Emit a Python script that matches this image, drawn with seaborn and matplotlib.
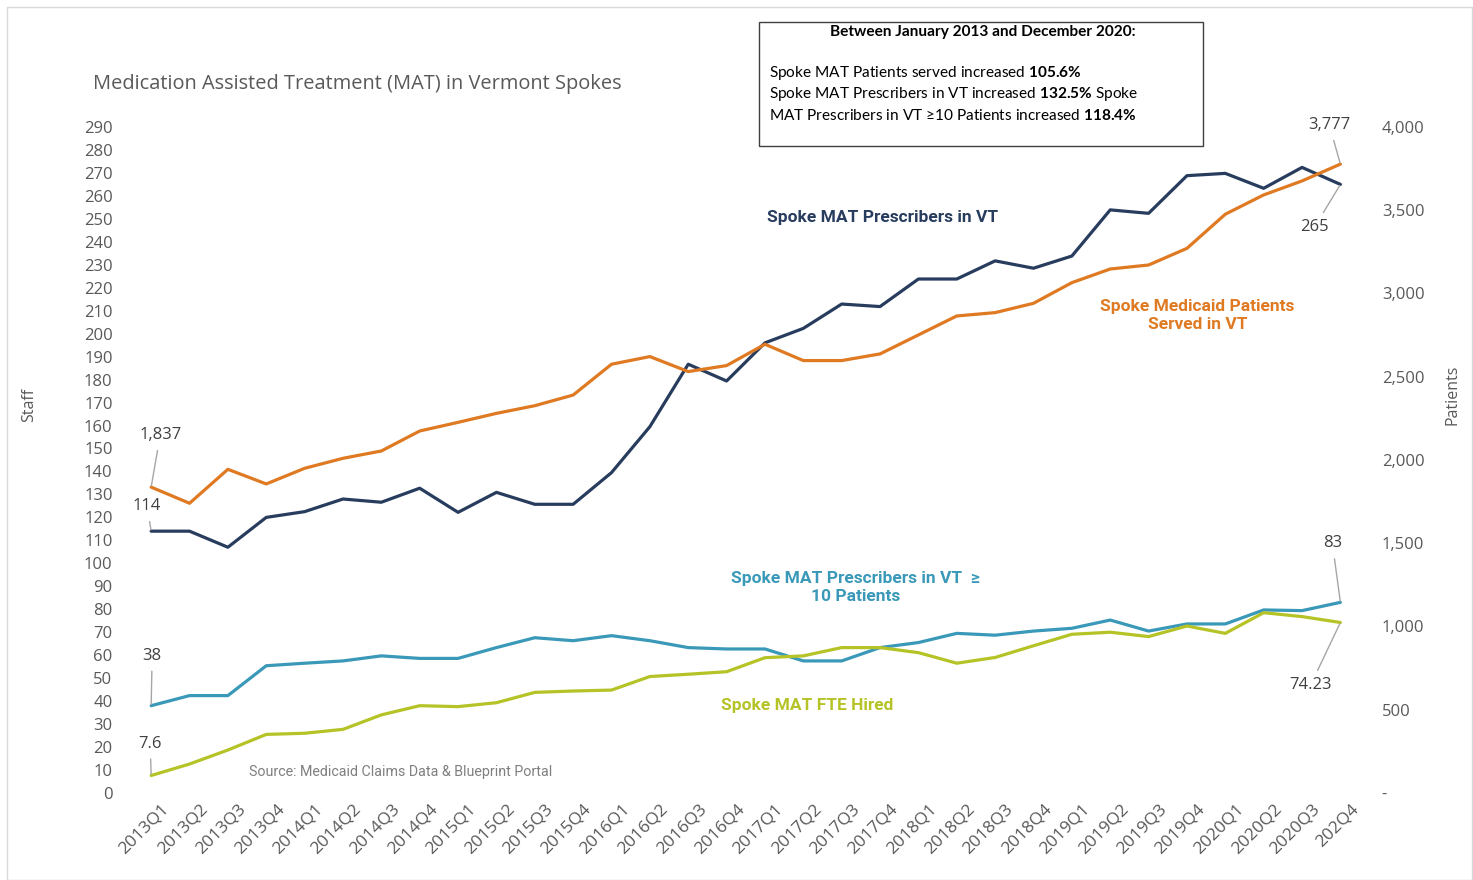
import matplotlib
matplotlib.use("Agg")
import matplotlib.pyplot as plt
import matplotlib.transforms as mtransforms
import seaborn as sns
import pandas as pd
from matplotlib.patches import Rectangle
from matplotlib.ticker import FuncFormatter, MultipleLocator

# quarters (last label keeps the typo of the original chart)
quarters = [f"{y}Q{q}" for y in range(2013, 2021) for q in range(1, 5)]
quarters[-1] = "202Q4"

# Spoke MAT Prescribers in VT (left axis, staff)
prescribers = [114, 114, 107, 120, 122.5, 128, 126.6, 132.7, 122.2, 130.9, 125.7, 125.7,
               139.5, 159.5, 186.7, 179.4, 196, 202.3, 212.9, 211.8, 223.8, 223.8, 231.7, 228.5,
               233.8, 253.9, 252.4, 268.8, 269.8, 263.3, 272.4, 265]

# Spoke Medicaid Patients Served in VT (right axis, patients)
patients = [1837, 1740, 1944, 1856, 1950, 2010, 2054, 2174, 2226, 2280, 2326, 2390,
            2575, 2621, 2531, 2567, 2695, 2597, 2597, 2637, 2751, 2865, 2885, 2941,
            3065, 3147, 3171, 3271, 3476, 3592, 3676, 3777]

# Spoke MAT Prescribers in VT >= 10 Patients (left axis)
prescribers_10 = [38, 42.4, 42.4, 55.4, 56.5, 57.5, 59.7, 58.6, 58.6, 63.3, 67.6, 66.3,
                  68.5, 66.3, 63.3, 62.7, 62.7, 57.5, 57.5, 63.3, 65.5, 69.5, 68.7, 70.5,
                  71.7, 75.3, 70.5, 73.6, 73.6, 79.7, 79.4, 83]

# Spoke MAT FTE Hired (left axis)
fte_hired = [7.6, 12.6, 18.7, 25.5, 26, 27.7, 34, 38, 37.6, 39.3, 43.8, 44.4,
             44.8, 50.7, 51.7, 52.8, 58.9, 59.7, 63.3, 63.3, 61.1, 56.5, 59, 64.1,
             69.1, 70, 68.1, 72.7, 69.5, 78.5, 76.8, 74.23]

df = pd.DataFrame({
    "idx": range(len(quarters)),
    "prescribers": prescribers,
    "patients": patients,
    "prescribers_10": prescribers_10,
    "fte": fte_hired,
})

NAVY = "#283C5E"
ORANGE = "#DF7A22"
TEAL = "#3A99B8"
LIME = "#B5C327"
GREY = "#595959"
DARK = "#404040"
LEADER = "#A6A6A6"

sns.set_style("white")
plt.rcParams["font.family"] = ["Open Sans", "DejaVu Sans"]
plt.rcParams["mathtext.fontset"] = "custom"
plt.rcParams["mathtext.rm"] = "Lato"
plt.rcParams["mathtext.bf"] = "Lato:bold"

fig = plt.figure(figsize=(14.73, 8.8), dpi=100)
ax = fig.add_axes([0.0896, 0.0989, 0.8334, 0.7568])
ax2 = ax.twinx()

lw = 2.3
sns.lineplot(data=df, x="idx", y="prescribers", ax=ax, color=NAVY, linewidth=lw)
sns.lineplot(data=df, x="idx", y="prescribers_10", ax=ax, color=TEAL, linewidth=lw)
sns.lineplot(data=df, x="idx", y="fte", ax=ax, color=LIME, linewidth=lw)
sns.lineplot(data=df, x="idx", y="patients", ax=ax2, color=ORANGE, linewidth=lw)

ax.set_xlim(-0.5, len(quarters) - 0.5)
ax.set_ylim(0, 290)
ax2.set_ylim(0, 4000)
ax.yaxis.set_major_locator(MultipleLocator(10))
ax2.yaxis.set_major_locator(MultipleLocator(500))
ax2.yaxis.set_major_formatter(FuncFormatter(lambda v, p: "-" if v == 0 else f"{v:,.0f}"))

ax.set_xticks(df["idx"])
ax.set_xticklabels(quarters, rotation=45, ha="right", rotation_mode="anchor")

for a in (ax, ax2):
    for s in a.spines.values():
        s.set_visible(False)
    a.tick_params(length=0, colors=GREY, labelsize=12)
ax.tick_params(axis="y", pad=14)
ax.tick_params(axis="x", pad=6, labelsize=12.5)
ax2.tick_params(axis="y", pad=16)

# nudge the rotated quarter labels a little to the right, like the original
shift = mtransforms.ScaledTranslation(10 / 100, 0, fig.dpi_scale_trans)
for t in ax.get_xticklabels():
    t.set_transform(t.get_transform() + shift)

ax.set_xlabel("")
ax.set_ylabel("Staff", color=GREY, fontsize=11.5)
ax2.set_ylabel("Patients", color=GREY, fontsize=11.5)
ax.yaxis.set_label_coords(-0.077, 0.583)
ax2.yaxis.set_label_coords(1.069, 0.598)

# data labels with leader lines
def label(a, i, y, txt, dx, dy):
    a.annotate(txt, xy=(i, y), xytext=(dx, dy), textcoords="offset pixels",
               ha="center", va="center", fontsize=12, color=DARK,
               arrowprops=dict(arrowstyle="-", color=LEADER, lw=1, shrinkA=3, shrinkB=1))

last = len(quarters) - 1
label(ax2, 0, patients[0], f"{patients[0]:,}", 9, 52)
label(ax, 0, prescribers[0], f"{prescribers[0]}", -4, 25)
label(ax, 0, prescribers_10[0], f"{prescribers_10[0]}", 1, 50)
label(ax, 0, fte_hired[0], f"{fte_hired[0]}", -1, 32)
label(ax2, last, patients[-1], f"{patients[-1]:,}", -11, 39)
label(ax, last, prescribers[-1], f"{prescribers[-1]}", -26, -43)
label(ax, last, prescribers_10[-1], f"{prescribers_10[-1]}", -8, 59)
label(ax, last, fte_hired[-1], f"{fte_hired[-1]}", -30, -63)

# series names
name_kw = dict(ha="center", va="center", fontsize=12.5, fontweight="bold",
               family=["Roboto", "DejaVu Sans"])
ax.text(19.06, 250.8, "Spoke MAT Prescribers in VT", color=NAVY, **name_kw)
ax.text(27.27, 207.9, "Spoke Medicaid Patients\nServed in VT", color=ORANGE,
        linespacing=1.3, **name_kw)
ax.text(18.36, 89.5, "Spoke MAT Prescribers in VT  \u2265\n10 Patients", color=TEAL,
        linespacing=1.3, **name_kw)
ax.text(17.1, 37.9, "Spoke MAT FTE Hired", color=LIME, **name_kw)
ax.text(2.55, 9.3, "Source: Medicaid Claims Data & Blueprint Portal", color="#7F7F7F",
        fontsize=10.3, ha="left", va="center", family=["Roboto", "DejaVu Sans"])

# title
fig.text(93 / 1473, 1 - 84 / 880, "Medication Assisted Treatment (MAT) in Vermont Spokes",
         fontsize=14.4, color=GREY, ha="left", va="center")

# summary box
fig.patches.append(Rectangle((759 / 1473, 1 - 146 / 880), 444 / 1473, 124 / 880,
                             transform=fig.transFigure, fill=False, ec="#404040", lw=1))
box_kw = dict(fontsize=11.1, color="black", va="center", family=["Lato", "DejaVu Sans"])
fig.text(983 / 1473, 1 - 32 / 880, "Between January 2013 and December 2020:",
         ha="center", fontweight="bold", **box_kw)
box_lines = [
    r"Spoke MAT Patients served increased $\mathbf{105.6\%}$",
    r"Spoke MAT Prescribers in VT increased $\mathbf{132.5\%}$ Spoke",
    "MAT Prescribers in VT \u226510 Patients increased $\\mathbf{118.4\\%}$",
]
for k, t in enumerate(box_lines):
    fig.text(769 / 1473, 1 - (73 + 21 * k) / 880, t, ha="left", **box_kw)

# faint outer frame
fig.patches.append(Rectangle((7 / 1473, 0), 1465 / 1473, 873 / 880,
                             transform=fig.transFigure, fill=False, ec="#D9D9D9", lw=1))

fig.savefig("out.png", dpi=100, facecolor="white")
